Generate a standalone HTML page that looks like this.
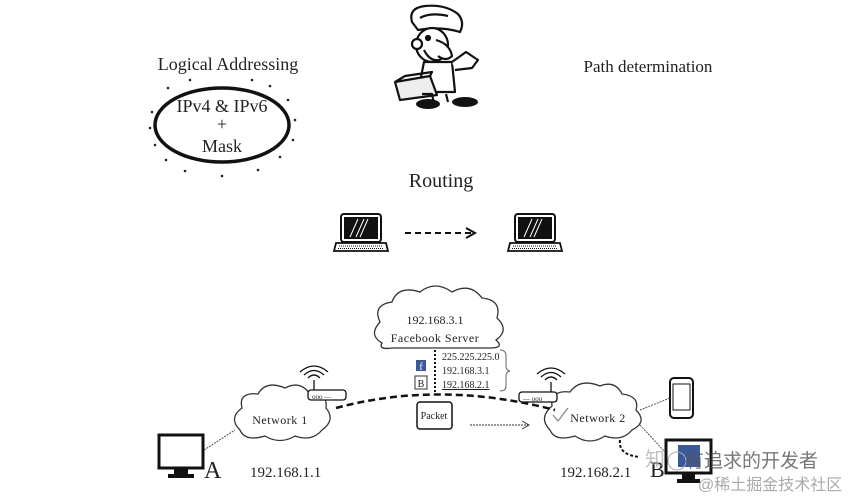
<!DOCTYPE html>
<html><head><meta charset="utf-8"><style>
html,body{margin:0;padding:0;background:#fff;width:865px;height:497px;overflow:hidden}
svg{display:block}
text{font-family:"Liberation Serif",serif;fill:#222}
</style></head><body>
<svg width="865" height="497" viewBox="0 0 865 497">
<!-- Logical addressing -->
<text x="228" y="70" font-size="18" text-anchor="middle">Logical Addressing</text>
<ellipse cx="222" cy="125" rx="67" ry="37" fill="none" stroke="#111" stroke-width="3.5"/>
<g fill="#222">
<circle cx="152" cy="112" r="1.3"/><circle cx="150" cy="128" r="1.3"/><circle cx="155" cy="145" r="1.3"/><circle cx="166" cy="160" r="1.3"/>
<circle cx="185" cy="171" r="1.3"/><circle cx="222" cy="176" r="1.3"/><circle cx="258" cy="170" r="1.3"/><circle cx="280" cy="157" r="1.3"/>
<circle cx="293" cy="140" r="1.3"/><circle cx="295" cy="120" r="1.3"/><circle cx="288" cy="100" r="1.3"/><circle cx="270" cy="86" r="1.3"/>
<circle cx="168" cy="88" r="1.3"/><circle cx="190" cy="80" r="1.3"/><circle cx="252" cy="80" r="1.3"/>
</g>
<text x="222" y="112" font-size="18" text-anchor="middle">IPv4 &amp; IPv6</text>
<text x="222" y="130" font-size="18" text-anchor="middle">+</text>
<text x="222" y="152" font-size="18" text-anchor="middle">Mask</text>
<!-- character -->
<g stroke="#111" stroke-width="2.2" fill="#fff" stroke-linejoin="round">
<path d="M412 22 Q408 8 425 6 Q445 4 458 14 Q465 22 460 32 Q440 26 418 30 Z"/>
<path d="M420 18 Q430 12 448 16" fill="none"/>
<ellipse cx="432" cy="45" rx="16" ry="17"/>
<circle cx="417" cy="44" r="5"/>
<path d="M436 40 Q450 44 452 56 Q446 62 438 56" />
<path d="M424 50 Q430 62 440 60" fill="none"/>
<circle cx="428" cy="38" r="2" fill="#111"/>
<path d="M424 62 L418 92 L455 92 L452 62 Z"/>
<path d="M452 62 L466 52 L478 60 L472 68 L455 70" />
<path d="M395 82 L430 76 L437 95 L400 100 Z" fill="#eee"/>
<path d="M395 82 L405 76 L432 72 L430 76" fill="none"/>
<path d="M422 94 L432 94 L434 104" fill="none"/>
<path d="M446 94 L448 102" fill="none"/>
</g>
<ellipse cx="428" cy="104" rx="12" ry="5" fill="#111"/>
<ellipse cx="465" cy="102" rx="13" ry="5" fill="#111"/>
<text x="648" y="72" font-size="17" text-anchor="middle">Path determination</text>
<text x="441" y="187" font-size="20" text-anchor="middle">Routing</text>
<!-- laptops -->
<g>
<rect x="341" y="214" width="40" height="28" rx="3" fill="#fff" stroke="#111" stroke-width="2"/>
<rect x="344" y="217" width="34" height="22" fill="#111"/>
<path d="M350 237 L358 219 M356 237 L364 219 M360 237 L368 219" stroke="#fff" stroke-width="1"/>
<path d="M336 243 H386 L388 251 H334 Z" fill="#fff" stroke="#111" stroke-width="1.8"/>
<path d="M339 246 H383 M338 248.5 H384" stroke="#111" stroke-width="1" stroke-dasharray="1,1"/>
<rect x="515" y="214" width="40" height="28" rx="3" fill="#fff" stroke="#111" stroke-width="2"/>
<rect x="518" y="217" width="34" height="22" fill="#111"/>
<path d="M524 237 L532 219 M530 237 L538 219 M534 237 L542 219" stroke="#fff" stroke-width="1"/>
<path d="M510 243 H560 L562 251 H508 Z" fill="#fff" stroke="#111" stroke-width="1.8"/>
<path d="M513 246 H557 M512 248.5 H558" stroke="#111" stroke-width="1" stroke-dasharray="1,1"/>
</g>
<line x1="405" y1="233" x2="472" y2="233" stroke="#111" stroke-width="2" stroke-dasharray="6,4"/>
<path d="M466 228 L475 233 L466 238" fill="none" stroke="#111" stroke-width="2"/>
<!-- clouds -->
<g fill="#fff" stroke="#333" stroke-width="1.3">
<path d="M382 343 Q368 335 380 322 Q372 305 392 302 Q398 285 420 292 Q435 280 452 292 Q470 282 482 298 Q502 300 497 318 Q510 330 496 340 Q505 348 490 348 L392 348 Q378 350 382 343 Z"/>
<path d="M240 430 Q228 418 242 408 Q238 392 258 394 Q266 380 285 388 Q300 380 310 394 Q328 392 326 408 Q336 420 322 430 Q312 442 295 436 Q280 445 265 436 Q245 442 240 430 Z"/>
<path d="M550 430 Q538 418 552 406 Q550 390 570 392 Q580 378 600 386 Q615 380 622 394 Q640 396 636 410 Q648 422 632 430 Q622 442 605 436 Q590 446 575 436 Q555 442 550 430 Z"/>
</g>
<text x="435" y="324" font-size="12" text-anchor="middle">192.168.3.1</text>
<text x="435" y="342" font-size="12" text-anchor="middle" letter-spacing="0.5">Facebook Server</text>
<text x="280" y="424" font-size="12" text-anchor="middle" letter-spacing="0.5">Network 1</text>
<text x="598" y="422" font-size="12" text-anchor="middle" letter-spacing="0.5">Network 2</text>
<path d="M553 415 L558 421 L568 408" fill="none" stroke="#888" stroke-width="1.3"/>
<line x1="435" y1="350" x2="435" y2="393" stroke="#111" stroke-width="2" stroke-dasharray="2,2"/>
<text x="442" y="360" font-size="10">225.225.225.0</text>
<text x="442" y="374" font-size="10">192.168.3.1</text>
<text x="442" y="388" font-size="10" text-decoration="underline">192.168.2.1</text>
<path d="M500 350 Q506 350 506 356 L506 366 Q506 370 510 371 Q506 372 506 376 L506 386 Q506 391 500 391" fill="none" stroke="#666" stroke-width="1"/>
<rect x="416" y="360" width="10" height="11" fill="#3b5998"/><text x="421" y="370" font-size="10" text-anchor="middle" style="fill:#fff">f</text>
<rect x="415" y="376" width="12" height="13" fill="#fff" stroke="#333"/><text x="421" y="387" font-size="10" text-anchor="middle">B</text>
<path d="M336 408 Q440 380 555 410" fill="none" stroke="#111" stroke-width="2.5" stroke-dasharray="7,4"/>
<g stroke="#111" stroke-width="1.3" fill="#fff">
<rect x="308" y="390" width="38" height="10" rx="3"/>
<rect x="519" y="392" width="38" height="10" rx="3"/>
</g>
<text x="312" y="399" font-size="7">ooo —</text>
<text x="523" y="401" font-size="7">— ooo</text>
<g fill="none" stroke="#111" stroke-width="1.3">
<line x1="314" y1="380" x2="314" y2="390"/>
<path d="M308 378 Q314 372 320 378 M304 375 Q314 366 324 375 M300 372 Q314 360 328 372"/>
<line x1="551" y1="382" x2="551" y2="392"/>
<path d="M545 380 Q551 374 557 380 M541 377 Q551 368 561 377 M537 374 Q551 362 565 374"/>
</g>
<rect x="417" y="402" width="35" height="27" rx="3" fill="#fff" stroke="#111" stroke-width="1.5"/>
<text x="434" y="419" font-size="10" text-anchor="middle">Packet</text>
<line x1="470" y1="425" x2="528" y2="425" stroke="#333" stroke-width="1" stroke-dasharray="2,1"/>
<path d="M522 421 L529 425 L522 429" fill="none" stroke="#333"/>
<rect x="159" y="435" width="44" height="33" fill="#fff" stroke="#111" stroke-width="3"/>
<path d="M174 468 H188 V474 H194 V478 H168 V474 H174 Z" fill="#111"/>
<line x1="204" y1="450" x2="235" y2="430" stroke="#444" stroke-dasharray="2,1"/>
<text x="204" y="478" font-size="24">A</text>
<text x="250" y="477" font-size="15">192.168.1.1</text>
<text x="560" y="477" font-size="15">192.168.2.1</text>
<rect x="670" y="378" width="23" height="40" rx="4" fill="#fff" stroke="#111" stroke-width="2"/>
<rect x="673" y="384" width="17" height="26" fill="#fff" stroke="#111"/>
<line x1="640" y1="410" x2="670" y2="398" stroke="#555" stroke-dasharray="2,1"/>
<line x1="640" y1="425" x2="665" y2="452" stroke="#555" stroke-dasharray="2,1"/>
<path d="M620 440 Q618 455 640 457" fill="none" stroke="#111" stroke-width="2" stroke-dasharray="3,2"/>
<rect x="666" y="440" width="45" height="33" fill="#fff" stroke="#111" stroke-width="3"/>
<rect x="678" y="445" width="22" height="22" fill="#3b5998"/>
<path d="M682 473 H695 V479 H700 V483 H677 V479 H682 Z" fill="#111"/>
<text x="650" y="477" font-size="22">B</text>
<text x="645" y="466" font-size="20" style="fill:#999;font-family:'Noto Sans CJK SC',sans-serif" opacity="0.6">知</text>
<circle cx="677" cy="461" r="9" fill="none" stroke="#aaa"/>
<text x="685" y="467" font-size="19" style="fill:#555;font-family:'Noto Sans CJK SC',sans-serif" opacity="0.8">有追求的开发者</text>
<text x="698" y="490" font-size="16" style="fill:#aaa;font-family:'Liberation Sans','Noto Sans CJK SC',sans-serif">@稀土掘金技术社区</text>
</svg>
</body></html>
